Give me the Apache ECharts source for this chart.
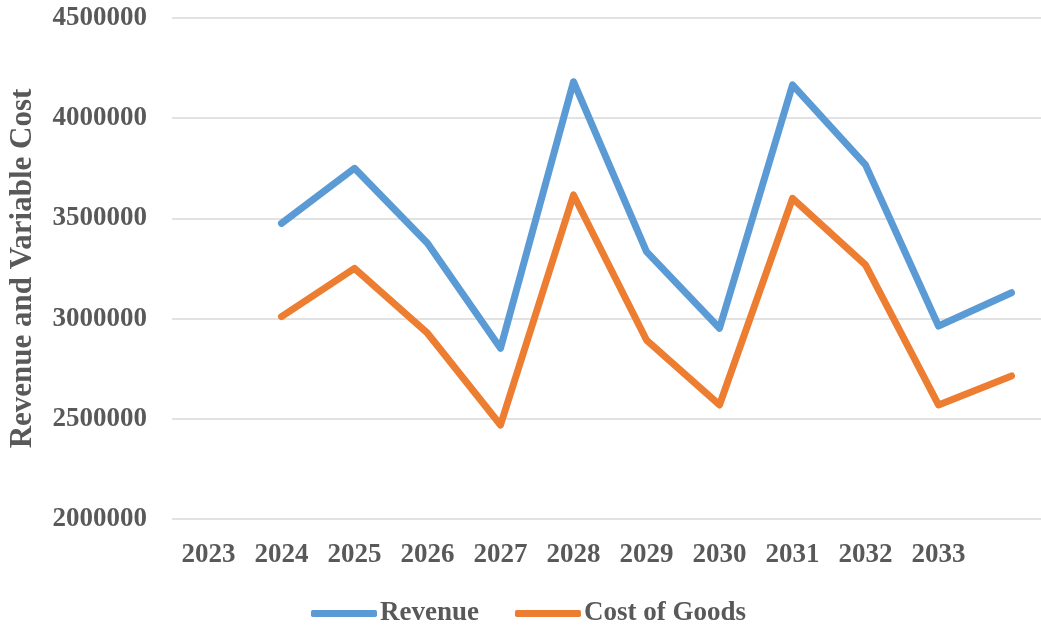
<!DOCTYPE html>
<html>
<head>
<meta charset="utf-8">
<script src="https://cdn.jsdelivr.net/npm/echarts@6/dist/echarts.min.js"></script>
<style>
  html, body { margin: 0; padding: 0; background: #fff; }
  #chart { width: 1041px; height: 626px; }
</style>
</head>
<body>
<div id="chart"></div>
<script>
// Year labels on the category axis; the last slot carries a point but no label
const years = ['2023', '2024', '2025', '2026', '2027', '2028', '2029', '2030', '2031', '2032', '2033', ''];
// Series values, one per slot (the first slot has no data)
const revenue = [null, 3475000, 3750000, 3376000, 2852000, 4182000, 3334000, 2952000, 4166000, 3767000, 2963000, 3129000];
const costOfGoods = [null, 3010000, 3251000, 2927000, 2469000, 3617000, 2893000, 2569000, 3600000, 3268000, 2569000, 2714000];

const textColor = '#595959';
const fontFamily = '"Liberation Serif", "Times New Roman", serif';

const chart = echarts.init(document.getElementById('chart'));
chart.setOption({
  animation: false,
  grid: { left: 172, top: 18, width: 876, bottom: 107, outerBoundsMode: 'none', containLabel: false },
  legend: {
    left: 306,
    top: 595,
    itemWidth: 66,
    itemHeight: 7,
    itemGap: 36,
    icon: 'roundRect',
    textStyle: { color: textColor, fontFamily: fontFamily, fontWeight: 'bold', fontSize: 27, padding: [0, 0, 0, -2] },
    data: ['Revenue', 'Cost of Goods']
  },
  xAxis: {
    type: 'category',
    data: years,
    boundaryGap: true,
    axisLine: { show: false },
    axisTick: { show: false },
    axisLabel: { color: textColor, fontFamily: fontFamily, fontWeight: 'bold', fontSize: 27, margin: 23, interval: 0 }
  },
  yAxis: {
    type: 'value',
    min: 2000000,
    max: 4500000,
    interval: 500000,
    name: 'Revenue and Variable Cost',
    nameLocation: 'middle',
    nameRotate: 90,
    nameGap: 134,
    nameTextStyle: { color: textColor, fontFamily: fontFamily, fontWeight: 'bold', fontSize: 31 },
    axisLine: { show: false },
    axisTick: { show: false },
    axisLabel: {
      color: textColor, fontFamily: fontFamily, fontWeight: 'bold', fontSize: 27, margin: 25,
      formatter: (v) => String(v)
    },
    splitLine: { lineStyle: { color: '#d9d9d9', width: 1.5 } }
  },
  series: [
    {
      name: 'Revenue',
      type: 'line',
      data: revenue,
      showSymbol: false,
      color: '#5B9BD5',
      lineStyle: { width: 7, cap: 'round', join: 'round' }
    },
    {
      name: 'Cost of Goods',
      type: 'line',
      data: costOfGoods,
      showSymbol: false,
      color: '#ED7D31',
      lineStyle: { width: 7, cap: 'round', join: 'round' }
    }
  ]
});
</script>
</body>
</html>
